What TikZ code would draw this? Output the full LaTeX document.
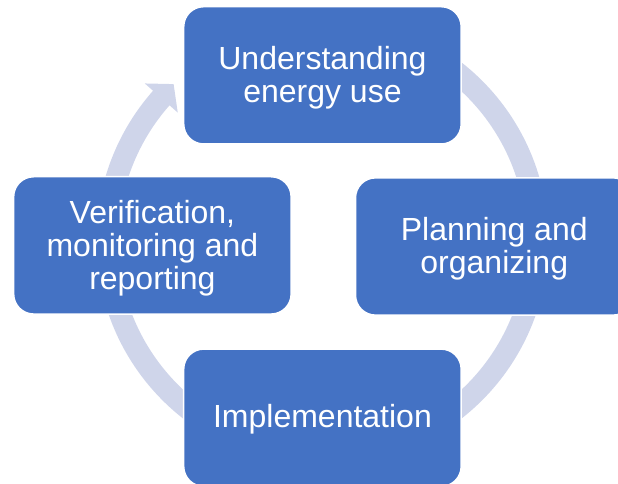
\documentclass[tikz,border=0pt]{standalone}
\usepackage{fontspec}
\setmainfont{Liberation Sans}
\usetikzlibrary{calc}
\definecolor{boxblue}{HTML}{4472C4}
\definecolor{arcblue}{HTML}{CFD5EA}
\begin{document}
\begin{tikzpicture}[x=1pt,y=1pt,
  stagebox/.style={draw=white, line width=1.5pt, fill=boxblue, rounded corners=20pt,
    minimum width=277.5pt, minimum height=137.3pt, inner sep=0pt},
  stagetext/.style={inner sep=0pt, text=white, align=center,
    font=\fontsize{32}{33}\selectfont},
  cyclearc/.style={draw=arcblue, line width=22pt}]
\useasboundingbox (0,0) rectangle (618,484);
\clip (0,0) rectangle (618,484);
\coordinate (c) at (322.3,243.5);
\coordinate (wingout) at ($(c)+(138.5:237)$);
\coordinate (wingin) at ($(c)+(138.5:193)$);
\coordinate (tip) at ($(c)+(138.5:215)+(48.5:18.6)$);
\draw[cyclearc] ($(c)+(90:215)$) arc[start angle=90, end angle=-221.8, radius=215];
\fill[arcblue] (wingout) -- (wingin) -- (tip) -- cycle;
\node[stagebox] (understand) at (322.45,408.65) {};
\node[stagebox] (planning) at (494.25,237.5) {};
\node[stagebox] (implement) at (322.45,66.25) {};
\node[stagebox] (verify) at (152.4,238.6) {};
\node[stagetext] (understandtext) at ([yshift=-2pt]understand.center) {Understanding\\energy use};
\node[stagetext] (planningtext) at ([yshift=-2pt]planning.center) {Planning and\\organizing};
\node[stagetext] (implementtext) at ([yshift=-1pt]implement.center) {Implementation};
\node[stagetext] (verifytext) at ([yshift=-2.5pt]verify.center) {Verification,\\monitoring and\\reporting};
\end{tikzpicture}
\end{document}
